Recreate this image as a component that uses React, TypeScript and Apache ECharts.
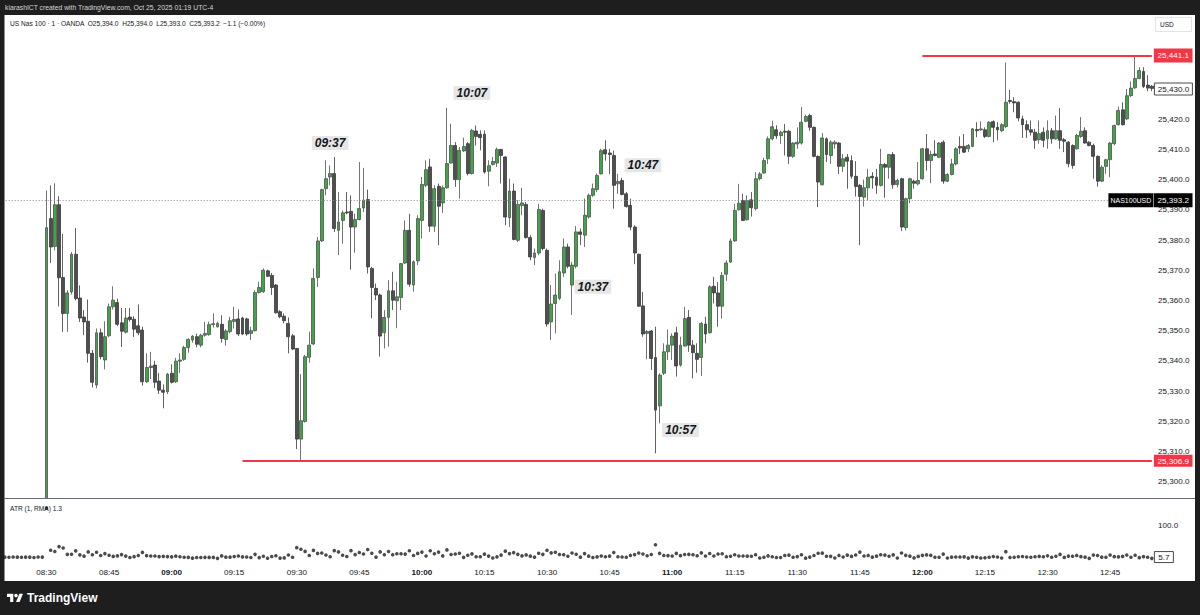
import React, { useEffect, useRef } from 'react';
import * as echarts from 'echarts';

// ---------- DATA (each bar: [open, high, low, close]) ----------
const preMarketBars = [
  [25251.0, 25254.5, 25249.0, 25252.5],
  [25252.5, 25256.0, 25251.0, 25253.0],
  [25253.0, 25255.5, 25249.5, 25250.5],
  [25250.5, 25253.5, 25248.0, 25252.0],
  [25252.0, 25254.0, 25249.0, 25249.5],
  [25249.5, 25252.0, 25246.5, 25247.5],
  [25247.5, 25251.5, 25246.0, 25250.0],
  [25250.0, 25253.0, 25248.5, 25251.5],
  [25251.5, 25254.0, 25248.0, 25249.0],
  [25249.0, 25252.5, 25247.0, 25248.0],
];

const bars0830 = [
  [25248.5, 25396.4, 25246.5, 25384.1], [25387.1, 25398.1, 25372.4, 25377.7], [25377.9, 25398.8, 25376.6, 25391.7],
  [25391.7, 25394.5, 25358.0, 25367.5], [25367.6, 25382.0, 25349.6, 25355.7], [25355.7, 25363.4, 25349.6, 25362.5],
  [25362.8, 25376.0, 25362.0, 25375.3], [25375.3, 25384.0, 25360.0, 25360.6], [25360.8, 25365.0, 25352.9, 25354.2],
  [25354.5, 25356.8, 25348.5, 25352.9], [25353.1, 25360.3, 25339.4, 25342.5], [25342.5, 25343.6, 25331.2, 25332.9],
  [25332.0, 25350.7, 25330.9, 25349.3], [25349.3, 25350.7, 25340.5, 25341.4], [25340.3, 25353.1, 25337.2, 25348.0],
  [25348.3, 25359.0, 25347.8, 25357.9], [25357.9, 25364.7, 25357.0, 25360.1], [25359.3, 25360.6, 25351.5, 25352.1],
  [25352.6, 25357.5, 25344.6, 25349.8], [25349.5, 25357.5, 25349.0, 25354.2], [25354.5, 25357.5, 25353.0, 25353.7],
  [25353.8, 25354.8, 25347.9, 25350.5], [25351.6, 25358.7, 25348.5, 25349.3], [25350.2, 25351.3, 25331.8, 25333.1],
  [25333.1, 25342.5, 25332.7, 25337.8], [25337.8, 25343.0, 25334.0, 25338.3], [25338.6, 25340.0, 25331.0, 25332.9],
  [25333.3, 25336.0, 25329.0, 25330.3], [25330.3, 25332.2, 25324.3, 25329.6], [25329.8, 25336.0, 25329.0, 25335.6],
];

const bars0900 = [
  [25335.9, 25338.9, 25332.5, 25332.9], [25333.1, 25341.0, 25332.7, 25339.9], [25339.9, 25342.5, 25336.0, 25340.3],
  [25340.5, 25345.0, 25340.0, 25344.4], [25344.4, 25347.5, 25342.7, 25347.1], [25346.9, 25348.5, 25346.0, 25348.2],
  [25348.0, 25349.0, 25344.5, 25345.5], [25345.2, 25349.0, 25344.5, 25348.5], [25348.5, 25352.9, 25348.0, 25349.1],
  [25348.7, 25353.0, 25348.3, 25352.0], [25352.0, 25355.7, 25351.0, 25352.3], [25351.3, 25353.0, 25351.0, 25352.4],
  [25352.1, 25355.1, 25346.0, 25347.4], [25347.1, 25350.5, 25345.0, 25349.9], [25349.7, 25354.6, 25349.1, 25353.3],
  [25353.0, 25357.9, 25350.7, 25353.7], [25353.9, 25357.0, 25348.2, 25348.9], [25354.2, 25354.6, 25348.5, 25348.9],
  [25353.9, 25354.3, 25348.3, 25348.9], [25349.1, 25351.3, 25346.9, 25350.0], [25350.0, 25363.4, 25349.7, 25362.6],
  [25362.6, 25366.2, 25362.3, 25364.3], [25362.9, 25370.6, 25362.5, 25370.0], [25369.8, 25370.2, 25367.8, 25368.0],
  [25368.3, 25369.1, 25361.8, 25364.3], [25365.1, 25365.4, 25355.7, 25355.9], [25356.3, 25356.8, 25354.1, 25354.6],
  [25354.8, 25355.7, 25352.4, 25353.3], [25352.4, 25354.4, 25342.5, 25348.0], [25348.3, 25348.9, 25343.6, 25343.9],
  [25344.1, 25344.3, 25310.8, 25314.1], [25314.1, 25335.6, 25307.0, 25320.2], [25319.9, 25342.0, 25319.6, 25341.4],
  [25341.2, 25349.7, 25339.4, 25345.2], [25345.6, 25370.6, 25345.2, 25367.3], [25367.6, 25381.0, 25364.5, 25379.7],
  [25379.7, 25397.0, 25379.4, 25396.7], [25397.0, 25406.4, 25394.8, 25400.3], [25400.9, 25404.7, 25398.1, 25402.0],
  [25402.0, 25407.5, 25382.7, 25383.8], [25383.2, 25395.9, 25375.0, 25386.0], [25386.5, 25389.8, 25378.8, 25389.0],
  [25389.3, 25395.9, 25388.5, 25389.0], [25389.5, 25394.8, 25370.2, 25384.3], [25384.3, 25388.7, 25375.8, 25386.8],
  [25386.8, 25405.8, 25386.5, 25390.4], [25390.6, 25403.9, 25389.3, 25393.2], [25393.4, 25396.7, 25368.9, 25371.1],
  [25370.6, 25371.1, 25354.1, 25364.3], [25364.0, 25365.6, 25360.1, 25361.8], [25361.8, 25362.3, 25341.4, 25348.2],
  [25349.3, 25356.8, 25344.1, 25354.4], [25354.4, 25366.7, 25344.7, 25363.2], [25363.2, 25369.5, 25356.8, 25360.1],
  [25359.9, 25366.2, 25350.8, 25361.2], [25361.0, 25372.4, 25356.8, 25372.2], [25372.4, 25386.5, 25372.0, 25383.2],
  [25383.2, 25388.7, 25364.5, 25365.4], [25365.1, 25373.3, 25362.9, 25372.8], [25373.1, 25388.2, 25371.7, 25387.1],
];

const bars1000 = [
  [25386.5, 25400.9, 25380.5, 25398.4], [25398.1, 25406.4, 25397.5, 25403.3], [25404.2, 25406.9, 25382.7, 25384.6],
  [25384.6, 25398.1, 25382.7, 25397.0], [25397.8, 25398.7, 25378.3, 25391.2], [25392.3, 25398.1, 25389.0, 25397.3],
  [25397.3, 25423.8, 25397.0, 25405.3], [25405.5, 25418.5, 25405.3, 25411.3], [25411.3, 25412.4, 25397.6, 25400.0],
  [25400.0, 25410.8, 25393.7, 25409.7], [25409.5, 25413.9, 25409.1, 25411.0], [25411.9, 25412.4, 25401.4, 25402.0],
  [25402.0, 25416.8, 25401.7, 25416.3], [25416.1, 25417.9, 25411.3, 25414.3], [25415.0, 25416.3, 25409.7, 25413.9],
  [25415.0, 25416.3, 25402.0, 25402.5], [25402.8, 25406.4, 25397.8, 25404.6], [25405.0, 25407.5, 25404.7, 25406.0],
  [25405.5, 25410.6, 25404.2, 25410.0], [25410.0, 25410.2, 25398.7, 25408.0], [25407.5, 25407.7, 25384.9, 25387.6],
  [25387.4, 25400.3, 25384.3, 25396.2], [25396.2, 25398.7, 25379.9, 25380.2], [25379.9, 25393.2, 25379.4, 25391.8],
  [25391.4, 25397.3, 25388.2, 25392.3], [25391.8, 25392.6, 25380.5, 25380.8], [25380.8, 25381.6, 25373.3, 25374.4],
  [25374.2, 25377.2, 25371.7, 25375.7], [25375.7, 25392.0, 25375.0, 25390.1], [25389.8, 25390.4, 25376.6, 25377.2],
  [25376.6, 25377.2, 25351.3, 25352.2], [25352.9, 25365.1, 25346.9, 25358.8], [25359.0, 25368.9, 25349.1, 25361.8],
  [25360.7, 25373.3, 25360.1, 25369.5], [25369.1, 25380.5, 25367.8, 25377.7], [25377.7, 25378.8, 25370.6, 25371.3],
  [25365.1, 25372.8, 25355.2, 25371.7], [25371.3, 25384.6, 25370.6, 25382.7], [25382.7, 25383.8, 25378.3, 25381.9],
  [25381.6, 25393.7, 25377.7, 25388.2], [25387.6, 25395.4, 25387.1, 25394.8], [25394.8, 25398.7, 25394.3, 25397.0],
  [25396.7, 25402.0, 25395.9, 25401.4], [25401.9, 25410.2, 25401.7, 25409.6], [25409.9, 25413.0, 25406.3, 25408.5],
  [25408.8, 25410.2, 25401.9, 25408.3], [25408.0, 25409.6, 25390.4, 25398.1], [25398.6, 25401.9, 25395.3, 25399.4],
  [25399.7, 25400.6, 25394.8, 25395.1], [25395.3, 25395.9, 25390.7, 25391.1], [25391.5, 25393.7, 25383.2, 25384.3],
  [25384.3, 25384.9, 25372.0, 25375.7], [25375.3, 25375.5, 25357.9, 25358.1], [25358.2, 25362.8, 25348.0, 25348.9],
  [25349.1, 25350.2, 25340.5, 25349.7], [25349.9, 25350.2, 25337.0, 25340.8], [25341.1, 25351.3, 25309.4, 25323.7],
  [25325.1, 25335.9, 25319.3, 25335.3], [25335.9, 25345.8, 25335.3, 25343.0], [25343.0, 25350.4, 25340.3, 25345.2],
];

const bars1100 = [
  [25345.2, 25349.1, 25340.3, 25348.2], [25349.3, 25351.3, 25334.8, 25338.3], [25338.6, 25348.0, 25338.1, 25345.2],
  [25344.9, 25357.9, 25344.7, 25354.0], [25354.4, 25356.8, 25343.0, 25345.2], [25345.2, 25346.9, 25334.2, 25342.7],
  [25342.5, 25345.8, 25336.1, 25340.5], [25341.1, 25352.9, 25335.0, 25352.4], [25352.2, 25354.6, 25345.8, 25348.9],
  [25349.3, 25365.0, 25349.1, 25364.5], [25364.7, 25367.8, 25359.0, 25362.5], [25362.5, 25366.1, 25351.3, 25358.1],
  [25358.1, 25369.4, 25354.0, 25368.3], [25368.7, 25373.3, 25366.5, 25372.4], [25372.7, 25380.5, 25372.4, 25379.7],
  [25379.7, 25392.0, 25379.4, 25389.8], [25390.0, 25398.6, 25389.8, 25392.2], [25393.1, 25395.3, 25386.3, 25386.5],
  [25386.7, 25394.8, 25386.5, 25393.1], [25393.3, 25395.9, 25387.8, 25390.7], [25390.4, 25402.5, 25389.8, 25400.3],
  [25400.3, 25402.5, 25399.7, 25401.9], [25402.2, 25407.2, 25401.9, 25406.3], [25406.9, 25414.3, 25405.2, 25413.5],
  [25413.5, 25419.5, 25413.0, 25417.5], [25416.5, 25418.0, 25413.5, 25414.5], [25414.6, 25416.2, 25411.8, 25415.7],
  [25416.0, 25418.4, 25408.0, 25415.7], [25416.0, 25416.5, 25405.2, 25407.7], [25407.7, 25412.4, 25407.2, 25412.1],
  [25411.8, 25417.3, 25410.2, 25412.4], [25412.1, 25424.0, 25411.6, 25419.0], [25419.3, 25421.5, 25419.0, 25420.9],
  [25421.2, 25421.8, 25416.2, 25417.3], [25417.3, 25417.6, 25407.4, 25407.7], [25407.7, 25408.0, 25390.9, 25399.2],
  [25398.3, 25415.4, 25398.1, 25413.8], [25413.5, 25414.0, 25405.8, 25408.3], [25408.0, 25413.0, 25405.2, 25412.4],
  [25411.8, 25413.0, 25410.2, 25412.4], [25412.1, 25412.4, 25401.9, 25404.4], [25404.4, 25408.5, 25402.5, 25406.9],
  [25407.4, 25408.5, 25397.0, 25406.1], [25406.3, 25408.0, 25400.3, 25401.1], [25401.1, 25406.1, 25394.4, 25397.7],
  [25398.1, 25398.6, 25378.3, 25394.4], [25394.2, 25400.0, 25391.1, 25397.3], [25397.3, 25403.6, 25393.1, 25400.8],
  [25401.1, 25402.5, 25397.0, 25400.6], [25400.8, 25403.6, 25395.3, 25398.1], [25398.1, 25410.2, 25397.7, 25405.0],
  [25405.0, 25405.5, 25394.0, 25404.1], [25404.1, 25408.5, 25400.3, 25408.3], [25408.3, 25409.1, 25397.0, 25398.3],
  [25398.4, 25400.3, 25397.5, 25399.7], [25400.3, 25400.6, 25383.0, 25384.3], [25384.1, 25394.0, 25383.2, 25393.7],
  [25393.7, 25400.6, 25392.2, 25400.3], [25399.5, 25400.0, 25397.0, 25398.8], [25398.6, 25405.8, 25398.1, 25399.7],
];

const bars1200 = [
  [25400.3, 25410.5, 25400.0, 25410.2], [25410.2, 25415.1, 25403.0, 25406.3], [25406.3, 25409.6, 25398.8, 25408.3],
  [25408.5, 25413.0, 25407.7, 25408.0], [25407.4, 25412.4, 25407.2, 25412.1], [25412.4, 25413.0, 25398.6, 25399.5],
  [25399.5, 25402.1, 25399.2, 25401.7], [25401.7, 25406.9, 25401.4, 25405.2], [25405.2, 25410.7, 25404.7, 25410.2],
  [25411.0, 25414.3, 25408.5, 25410.5], [25411.0, 25415.1, 25408.8, 25409.1], [25410.2, 25411.8, 25409.1, 25411.3],
  [25411.0, 25417.1, 25410.7, 25416.8], [25416.6, 25419.0, 25414.0, 25416.2], [25416.5, 25419.3, 25416.2, 25416.8],
  [25416.5, 25417.3, 25413.8, 25414.3], [25414.3, 25419.3, 25414.0, 25419.0], [25419.2, 25419.6, 25412.4, 25417.3],
  [25417.3, 25419.0, 25413.0, 25416.5], [25416.2, 25418.7, 25415.7, 25418.2], [25417.6, 25438.8, 25417.1, 25425.6],
  [25426.2, 25429.7, 25425.1, 25425.9], [25425.8, 25427.3, 25422.3, 25425.4], [25425.6, 25425.9, 25419.3, 25420.4],
  [25420.1, 25421.2, 25413.8, 25418.2], [25418.2, 25419.6, 25413.8, 25416.5], [25416.5, 25419.6, 25414.6, 25415.7],
  [25415.7, 25416.8, 25410.2, 25413.0], [25413.2, 25419.6, 25411.9, 25415.2], [25415.7, 25417.3, 25410.7, 25413.0],
  [25413.5, 25419.6, 25410.2, 25416.2], [25416.2, 25417.1, 25411.9, 25413.5], [25413.5, 25421.2, 25413.2, 25416.2],
  [25416.2, 25423.7, 25410.2, 25413.0], [25413.2, 25413.8, 25409.1, 25412.7], [25412.4, 25412.7, 25404.1, 25405.3],
  [25411.3, 25411.7, 25403.6, 25404.7], [25410.2, 25415.2, 25409.9, 25414.6], [25414.3, 25420.7, 25413.8, 25416.0],
  [25416.2, 25417.3, 25411.9, 25412.1], [25412.4, 25412.7, 25411.0, 25411.3], [25411.3, 25411.9, 25400.3, 25407.7],
  [25407.7, 25408.0, 25397.7, 25399.5], [25399.5, 25404.7, 25399.2, 25404.1], [25404.4, 25406.9, 25401.9, 25406.6],
  [25406.6, 25412.4, 25400.8, 25412.1], [25411.9, 25418.2, 25411.3, 25417.9], [25418.2, 25424.2, 25417.9, 25422.9],
  [25423.1, 25425.6, 25417.9, 25418.2], [25420.1, 25430.0, 25419.8, 25427.8], [25427.8, 25432.5, 25427.3, 25430.3],
  [25430.4, 25441.1, 25430.0, 25433.5], [25433.5, 25437.2, 25433.2, 25436.1], [25435.8, 25437.2, 25430.3, 25430.8],
  [25431.3, 25434.6, 25429.3, 25430.3], [25430.9, 25431.3, 25429.3, 25430.2],
];

const firstBarTime = '08:20';
const tickLabels = ['08:30', '08:45', '09:00', '09:15', '09:30', '09:45', '10:00', '10:15', '10:30', '10:45',
  '11:00', '11:15', '11:30', '11:45', '12:00', '12:15', '12:30', '12:45'];
const boldTickLabels = ['09:00', '10:00', '11:00', '12:00'];
const priceTicks = [25300, 25310, 25320, 25330, 25340, 25350, 25360, 25370, 25380, 25390, 25400, 25410, 25420, 25430];
const atrTicks = [100];

const headerText = 'kiarashICT created with TradingView.com, Oct 25, 2025 01:19 UTC-4';
const symbolTitle = 'US Nas 100 · 1 · OANDA';
const lastBarValues = ['O25,394.0', 'H25,394.0', 'L25,393.0', 'C25,393.2', '−1.1 (−0.00%)'];
const atrTitle = 'ATR (1, RMA)';
const atrLegendValue = '1.3';
const lastPrice = 25393.2;
const symbolTag = 'NAS100USD';
const sessionHigh = 25441.1;
const highLineFrom = '12:00';
const sessionLow = 25306.9;
const lowLineFrom = '09:17';
const scaleMarker = 25430.0;
const atrLast = 5.7;
const annotations = [
  { text: '09:37', time: '09:38', price: 25412.1 },
  { text: '10:07', time: '10:12', price: 25428.7 },
  { text: '10:47', time: '10:53', price: 25404.8 },
  { text: '10:37', time: '10:41', price: 25364.5 },
  { text: '10:57', time: '11:02', price: 25317.1 },
];

// ---------- BUILD ----------
const allBars = [...preMarketBars, ...bars0830, ...bars0900, ...bars1000, ...bars1100, ...bars1200];
const startMin = parseInt(firstBarTime.slice(0, 2)) * 60 + parseInt(firstBarTime.slice(3));
const times = allBars.map((_, i) => {
  const m = startMin + i;
  return String(Math.floor(m / 60)).padStart(2, '0') + ':' + String(m % 60).padStart(2, '0');
});
const candleData = allBars.map(([o, h, l, c]) => [o, c, l, h]);
// ATR(1) = true range of each bar
const atrData = allBars.map(([, h, l], i) => {
  if (i === 0) return +(h - l).toFixed(1);
  const pc = allBars[i - 1][3];
  return +(Math.max(h, pc) - Math.min(l, pc)).toFixed(1);
});

const FONT = '"Liberation Sans", Arial, sans-serif';
const TXT = '#131722';
const RED = '#f23645';
const AXIS_X = 1153.9;
const AX_FS = 8.1;

const fmtPrice = (v: number) =>
  v.toLocaleString('en-US', { minimumFractionDigits: 1, maximumFractionDigits: 1 });

const LOGO_D = 'M0 4H14V22H7V11H0Z M20 22L27.5 4H35.5L28 22Z M16 8A4 4 0 1 0 24 8A4 4 0 1 0 16 8Z';
echarts.graphic.registerShape('tvlogo', echarts.graphic.extendPath(LOGO_D, {}));

function buildOption(): any {
  return {
    animation: false,
    backgroundColor: '#ffffff',
    grid: [
      { left: 2.7, width: 1151.2, top: 15, height: 483, containLabel: false, outerBoundsMode: 'none' },
      { left: 2.7, width: 1151.2, top: 499, height: 60, containLabel: false, outerBoundsMode: 'none' },
    ],
    xAxis: [
      {
        type: 'category', gridIndex: 0, data: times, boundaryGap: true,
        axisLine: { show: false }, axisTick: { show: false }, axisLabel: { show: false }, splitLine: { show: false },
      },
      {
        type: 'category', gridIndex: 1, data: times, boundaryGap: true, z: 8,
        axisLine: { show: false }, axisTick: { show: false }, splitLine: { show: false },
        axisLabel: {
          interval: (_i: number, v: string) => tickLabels.includes(v),
          formatter: (v: string) => (boldTickLabels.includes(v) ? '{b|' + v + '}' : v),
          color: TXT, fontSize: AX_FS, fontFamily: FONT, margin: 9,
          rich: { b: { fontWeight: 'bold', fontSize: AX_FS, fontFamily: FONT, color: TXT } },
        },
      },
    ],
    yAxis: [
      {
        type: 'value', gridIndex: 0, position: 'right', min: 25294.6, max: 25454.5,
        axisLine: { show: false }, axisTick: { show: false }, splitLine: { show: false },
        axisLabel: {
          customValues: priceTicks, formatter: (v: number) => fmtPrice(v),
          color: TXT, fontSize: AX_FS, fontFamily: FONT, margin: 4, align: 'left',
        },
      },
      {
        type: 'value', gridIndex: 1, position: 'right', min: 0, max: 176.8, z: 8,
        axisLine: { show: false }, axisTick: { show: false }, splitLine: { show: false },
        axisLabel: {
          customValues: atrTicks, formatter: (v: number) => v.toFixed(1),
          color: TXT, fontSize: AX_FS, fontFamily: FONT, margin: 4, align: 'left',
        },
      },
    ],
    series: [
      {
        type: 'candlestick', xAxisIndex: 0, yAxisIndex: 0, data: candleData, clip: true, z: 2,
        barWidth: 3.4,
        itemStyle: { color: '#3fa646', color0: '#4f4f4f', borderColor: '#505050', borderColor0: '#3a3a3a', borderWidth: 0.8 },
        markLine: {
          silent: true, symbol: ['none', 'none'], animation: false, label: { show: false },
          data: [
            [
              { coord: [highLineFrom, sessionHigh], lineStyle: { color: RED, width: 2, type: 'solid' } },
              { coord: [times[times.length - 1], sessionHigh] },
            ],
            [
              { coord: [lowLineFrom, sessionLow], lineStyle: { color: RED, width: 2, type: 'solid' } },
              { coord: [times[times.length - 1], sessionLow] },
            ],
            { yAxis: lastPrice, lineStyle: { color: '#8a8d96', width: 1, type: [1, 2] } },
          ],
        },
      },
      {
        type: 'scatter', xAxisIndex: 1, yAxisIndex: 1, data: atrData, symbol: 'circle', symbolSize: 3.6, z: 6,
        itemStyle: { color: '#1e1e1e' }, clip: true,
      },
    ],
  };
}

function textEl(x: number, y: number, text: string, opts: any = {}) {
  return {
    type: 'text', z: 110, silent: true,
    style: {
      x, y, text, fill: opts.fill || TXT, align: opts.align || 'left', verticalAlign: 'middle',
      font: opts.font || `${AX_FS}px ${FONT}`,
    },
  };
}

function labelBox(x: number, yc: number, w: number, h: number, text: string, fill: string, color: string, stroke?: string, font?: string) {
  return {
    type: 'group', z: 105,
    children: [
      {
        type: 'rect', z: 105, silent: true,
        shape: { x, y: yc - h / 2, width: w, height: h },
        style: { fill, stroke: stroke || null, lineWidth: stroke ? 1 : 0 },
      },
      {
        type: 'text', z: 106, silent: true,
        style: { x: x + w / 2, y: yc + 0.5, text, fill: color, align: 'center', verticalAlign: 'middle', font: font || `${AX_FS}px ${FONT}` },
      },
    ],
  };
}

function buildGraphic(chart: any) {
  const py = (v: number) => chart.convertToPixel({ yAxisIndex: 0 }, v) as number;
  const px = (t: string) => chart.convertToPixel({ xAxisIndex: 0 }, t) as number;
  const ay = (v: number) => chart.convertToPixel({ yAxisIndex: 1 }, v) as number;
  const frame = '#1e1e1e';
  const els: any[] = [
    // white backdrop of the indicator pane + time scale (hides the part of tall bars below the price pane)
    { type: 'rect', z: 4, silent: true, shape: { x: 4.5, y: 498.5, width: 1190.5, height: 83 }, style: { fill: '#ffffff' } },
    // frame
    { type: 'rect', z: 120, silent: true, shape: { x: 0, y: 0, width: 1200, height: 15 }, style: { fill: frame } },
    { type: 'rect', z: 120, silent: true, shape: { x: 0, y: 0, width: 4.5, height: 615 }, style: { fill: frame } },
    { type: 'rect', z: 120, silent: true, shape: { x: 1195, y: 0, width: 5, height: 615 }, style: { fill: frame } },
    { type: 'rect', z: 120, silent: true, shape: { x: 0, y: 581, width: 1200, height: 34 }, style: { fill: frame } },
    {
      type: 'text', z: 121, silent: true,
      style: { x: 5, y: 7.5, text: headerText, fill: '#d6d6d6', align: 'left', verticalAlign: 'middle', font: `6.8px ${FONT}` },
    },
    // pane separator
    {
      type: 'line', z: 100, silent: true,
      shape: { x1: 4.5, y1: 498.5, x2: 1195, y2: 498.5 },
      style: { stroke: '#6a6d78', lineWidth: 1 },
    },
    // legends
    textEl(10, 23, symbolTitle + '  ' + lastBarValues.join('  '), { font: `6.6px ${FONT}` }),
    textEl(10, 508, atrTitle + ' ' + atrLegendValue, { font: `6.6px ${FONT}` }),
    // USD box
    {
      type: 'rect', z: 105, silent: true, shape: { x: 1155.5, y: 17.5, width: 36, height: 14 },
      style: { fill: '#ffffff', stroke: '#e0e3eb', lineWidth: 1 },
    },
    textEl(1160, 24.5, 'USD', { font: `6.5px ${FONT}` }),
    // price scale labels
    labelBox(AXIS_X, py(sessionHigh), 38.6, 14, fmtPrice(sessionHigh), RED, '#ffffff'),
    labelBox(AXIS_X, py(sessionLow), 38.6, 12, fmtPrice(sessionLow), RED, '#ffffff'),
    labelBox(AXIS_X + 0.5, py(scaleMarker), 38, 12, fmtPrice(scaleMarker), '#ffffff', TXT, '#4a4a4a'),
    labelBox(AXIS_X, py(lastPrice), 38.6, 14, fmtPrice(lastPrice), '#000000', '#ffffff'),
    labelBox(AXIS_X - 45.5, py(lastPrice), 45, 14, symbolTag, '#000000', '#ffffff', undefined, `7px ${FONT}`),
    labelBox(AXIS_X + 0.5, ay(atrLast), 19, 11, String(atrLast), '#ffffff', TXT, '#4a4a4a'),
    // footer logo
    { type: 'tvlogo', z: 125, silent: true, x: 7, y: 592, scaleX: 0.45, scaleY: 0.45, style: { fill: '#ffffff' } },
    {
      type: 'text', z: 125, silent: true,
      style: { x: 27, y: 598, text: 'TradingView', fill: '#ffffff', align: 'left', verticalAlign: 'middle', font: `bold 12px ${FONT}` },
    },
  ];
  annotations.forEach((a) => {
    els.push({
      type: 'text', z: 108, silent: true,
      style: {
        x: px(a.time), y: py(a.price), text: a.text, fill: TXT, align: 'center', verticalAlign: 'middle',
        font: `italic bold 12px ${FONT}`,
        backgroundColor: '#e6e6e6', padding: [1, 3, 1, 3],
      },
    });
  });
  return els;
}

export default function App() {
  const ref = useRef<HTMLDivElement>(null);
  useEffect(() => {
    const el = ref.current;
    if (!el) return;
    const chart = echarts.init(el, null, { renderer: 'svg' });
    chart.setOption(buildOption());
    chart.setOption({ graphic: buildGraphic(chart) });
    return () => chart.dispose();
  }, []);
  return <div ref={ref} style={{ position: 'fixed', left: 0, top: 0, width: 1200, height: 615 }} />;
}
